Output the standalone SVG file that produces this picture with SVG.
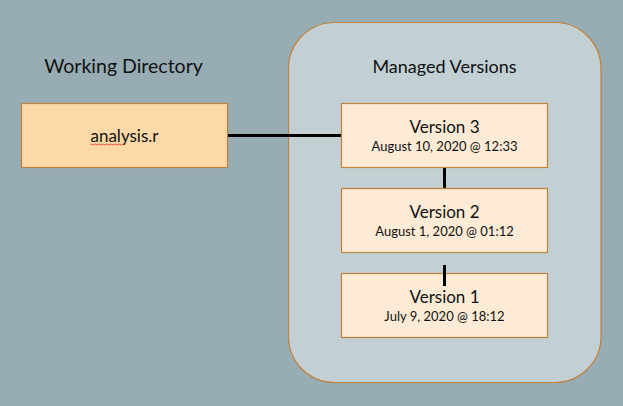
<svg xmlns="http://www.w3.org/2000/svg" width="623" height="406" viewBox="0 0 623 406">
<style>
.box{stroke:#c0813a;stroke-width:1.2}
.t{font-family:Lato,"Liberation Sans",sans-serif;fill:#111;text-anchor:middle}
.h{font-size:18px}
.v{font-size:17px}
.s{font-size:13px}
.conn{stroke:#000;stroke-width:3;fill:none}
</style>
<rect width="623" height="406" fill="#98acb3"/>
<g id="managed-versions">
<rect x="288.5" y="22.5" width="312.5" height="360" rx="46" ry="46" fill="#c2d0d4" stroke="#c0813a" stroke-width="1.2"/>
<text class="t h" x="444.5" y="73">Managed Versions</text>
</g>
<text class="t h" x="123.5" y="73" style="font-size:19.5px">Working Directory</text>
<g id="connectors">
<line class="conn" x1="227.5" y1="135.5" x2="341.5" y2="135.5"/>
<line class="conn" x1="444.5" y1="167" x2="444.5" y2="188.5"/>
</g>
<g id="analysis">
<rect class="box" x="21.5" y="103.5" width="206" height="64" fill="#fcd9a6"/>
<text class="t v" x="124.5" y="141.5">analysis.r</text>
<path d="M90,144.5 q1,-1.2 2,0 t2,0 t2,0 t2,0 t2,0 t2,0 t2,0 t2,0 t2,0 t2,0 t2,0 t2,0 t2,0 t2,0 t2,0 t2,0 t2,0" fill="none" stroke="#e03030" stroke-width="0.8"/>
</g>
<g id="version3">
<rect class="box" x="341.5" y="103.5" width="206" height="64" fill="#fdebd6"/>
<text class="t v" x="444.5" y="132.5">Version 3</text>
<text class="t s" x="444.5" y="150.5">August 10, 2020 @ 12:33</text>
</g>
<g id="version2">
<rect class="box" x="341.5" y="188.5" width="206" height="64" fill="#fdebd6"/>
<text class="t v" x="444.5" y="217.5">Version 2</text>
<text class="t s" x="444.5" y="235.5">August 1, 2020 @ 01:12</text>
</g>
<g id="version1">
<rect class="box" x="341.5" y="273.5" width="206" height="64" fill="#fdebd6"/>
<text class="t v" x="444.5" y="302.5">Version 1</text>
<text class="t s" x="444.5" y="320.5">July 9, 2020 @ 18:12</text>
</g>
<g id="connectors-top">
<line class="conn" x1="444.5" y1="265" x2="444.5" y2="286"/>
</g>
</svg>
